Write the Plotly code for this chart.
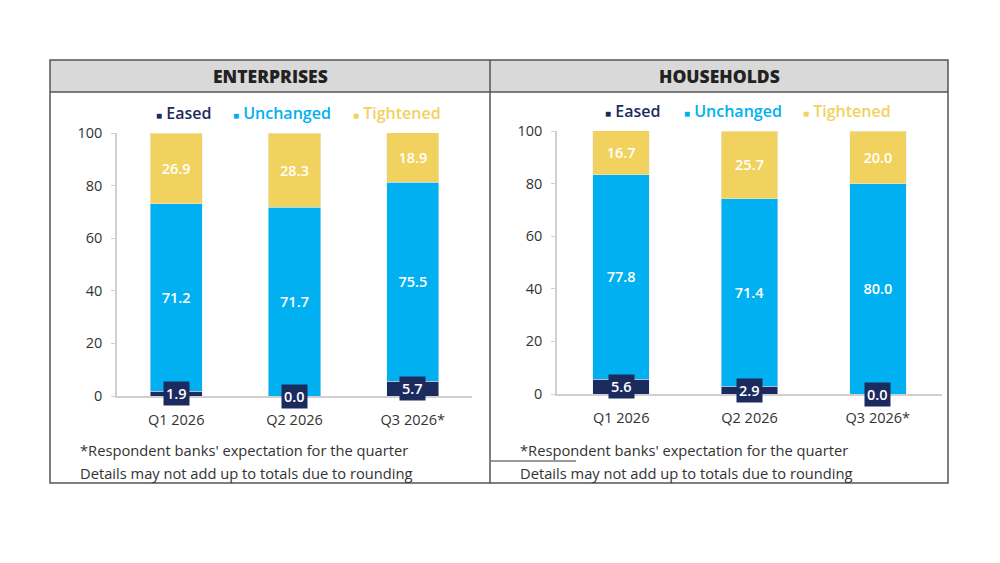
import plotly.graph_objects as go

# data
quarters = ['Q1 2026', 'Q2 2026', 'Q3 2026*']
ent_eased = [1.9, 0.0, 5.7]
ent_unchanged = [71.2, 71.7, 75.5]
ent_tightened = [26.9, 28.3, 18.9]
hh_eased = [5.6, 2.9, 0.0]
hh_unchanged = [77.8, 71.4, 80.0]
hh_tightened = [16.7, 25.7, 20.0]
y_ticks = [0, 20, 40, 60, 80, 100]

navy = '#1c2b5e'
cyan = '#00b0f0'
yellow = '#f2d25e'
font_name = 'Open Sans'

W, H = 1000, 563
def px_x(v):
    return v / W
def px_y(v):
    return 1 - v / H

fig = go.Figure()

label_font = dict(color='white', size=14.5, family=font_name, weight=600)
panels = [
    ('x', 'y', ent_eased, ent_unchanged, ent_tightened),
    ('x2', 'y2', hh_eased, hh_unchanged, hh_tightened),
]
for xa, ya, eased, unch, tight in panels:
    fig.add_trace(go.Bar(x=quarters, y=eased, marker_color=navy, width=0.44,
                         xaxis=xa, yaxis=ya, showlegend=False))
    fig.add_trace(go.Bar(x=quarters, y=unch, marker_color=cyan, width=0.44,
                         text=['%.1f' % v for v in unch], textposition='inside',
                         insidetextanchor='middle', textangle=0, textfont=label_font,
                         xaxis=xa, yaxis=ya, showlegend=False))
    fig.add_trace(go.Bar(x=quarters, y=tight, marker_color=yellow, width=0.44,
                         text=['%.1f' % v for v in tight], textposition='inside',
                         insidetextanchor='middle', textangle=0, textfont=label_font,
                         xaxis=xa, yaxis=ya, showlegend=False))
    # eased labels sit in a navy box on the base of the bar
    for q, v in zip(quarters, eased):
        fig.add_annotation(x=q, y=v / 2, xref=xa, yref=ya, text='%.1f' % v,
                           showarrow=False, bgcolor=navy, borderpad=2,
                           font=label_font)

tick_font = dict(size=14.5, color='#333333', family=font_name, weight=500)
xaxis_common = dict(showline=True, linecolor='#d0d0d0', linewidth=1.5, ticks='',
                    tickfont=tick_font, ticklabelstandoff=10, automargin=False)
yaxis_common = dict(showline=True, linecolor='#d0d0d0', linewidth=1.5,
                    tickfont=tick_font, range=[0, 100], tickvals=y_ticks,
                    showgrid=False, ticks='outside', ticklen=4, tickcolor='#d0d0d0',
                    zeroline=False, ticklabelstandoff=6, automargin=False)
fig.update_layout(
    width=W, height=H,
    margin=dict(l=0, r=0, t=0, b=0, pad=0, autoexpand=False),
    paper_bgcolor='white', plot_bgcolor='white',
    barmode='stack',
    showlegend=False,
    font=dict(family=font_name),
    xaxis=dict(domain=[px_x(117), px_x(472)], anchor='y', **xaxis_common),
    yaxis=dict(domain=[px_y(396), px_y(133)], anchor='x', **yaxis_common),
    xaxis2=dict(domain=[px_x(557), px_x(942)], anchor='y2', **xaxis_common),
    yaxis2=dict(domain=[px_y(394), px_y(131)], anchor='x2', **yaxis_common),
)

# frame, header band and divider
shapes = [
    dict(type='rect', x0=px_x(50), x1=px_x(948), y0=px_y(92), y1=px_y(60),
         fillcolor='#d9d9d9', line=dict(width=0), layer='below'),
    dict(type='rect', x0=px_x(50), x1=px_x(948), y0=px_y(483), y1=px_y(60),
         line=dict(color='#555555', width=1.5)),
    dict(type='line', x0=px_x(50), x1=px_x(948), y0=px_y(92), y1=px_y(92),
         line=dict(color='#555555', width=1.5)),
    dict(type='line', x0=px_x(490), x1=px_x(490), y0=px_y(483), y1=px_y(60),
         line=dict(color='#555555', width=1.5)),
    dict(type='line', x0=px_x(490), x1=px_x(576), y0=px_y(461), y1=px_y(461),
         line=dict(color='#777777', width=1.5)),
]
for s in shapes:
    fig.add_shape(xref='paper', yref='paper', **s)

def paper_text(x, y, text, size=13, color='#333333', anchor='left', weight=400):
    fig.add_annotation(x=px_x(x), y=px_y(y), xref='paper', yref='paper',
                       text=text, showarrow=False, xanchor=anchor, yanchor='middle',
                       font=dict(size=size, color=color, family=font_name, weight=weight))

paper_text(270, 76, 'ENTERPRISES', size=17.5, color='#222222', anchor='center', weight=800)
paper_text(719, 76, 'HOUSEHOLDS', size=17.5, color='#222222', anchor='center', weight=800)

def legend(x_positions, y):
    items = [('Eased', navy), ('Unchanged', cyan), ('Tightened', yellow)]
    for x, (name, c) in zip(x_positions, items):
        paper_text(x, y, "<span style='font-size:10px'>■</span> " + name, size=16,
                   color=c, weight=600)

legend([154, 231, 351], 113)
legend([603, 682, 801], 111)

notes = ["*Respondent banks' expectation for the quarter",
         'Details may not add up to totals due to rounding']
for x0 in (78, 518):
    paper_text(x0, 450, notes[0], size=14.7)
    paper_text(x0, 473, notes[1], size=14.7)

# pin the graph to the page corner so the page itself adds no offset
pin = ("document.body.style.margin='0';document.body.style.overflow='hidden';"
       "var gd=document.getElementById('{plot_id}');"
       "gd.style.position='fixed';gd.style.left='0px';gd.style.top='0px';")
fig.write_html('out.html', post_script=pin, config={'displayModeBar': False})
